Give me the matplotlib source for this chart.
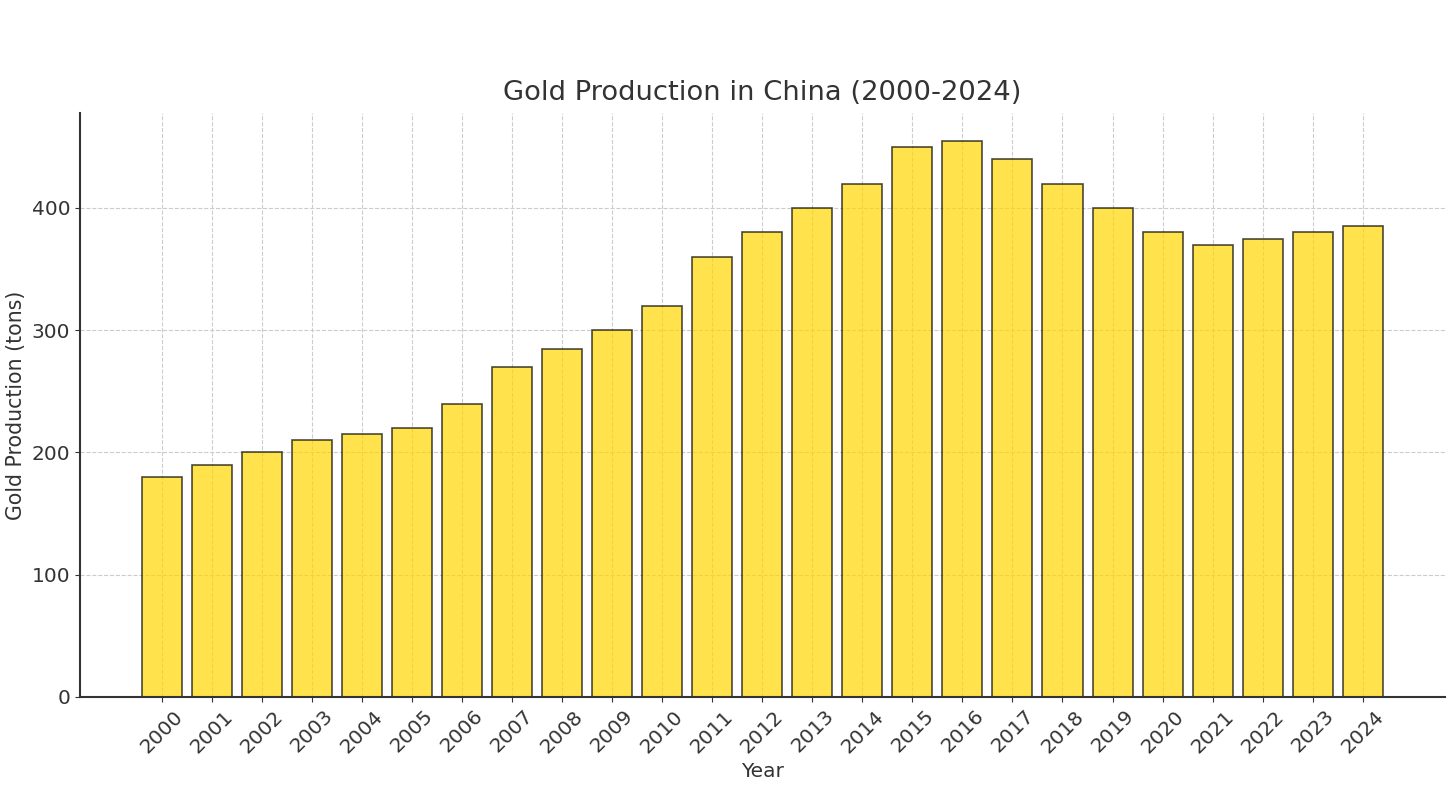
import matplotlib
matplotlib.use("Agg")
import matplotlib.pyplot as plt

years = [str(y) for y in range(2000, 2025)]
production = [180, 190, 200, 210, 215, 220, 240, 270, 285, 300, 320, 360, 380,
              400, 420, 450, 455, 440, 420, 400, 380, 370, 375, 380, 385]

text_color = "#333333"
plt.rcParams['font.family'] = ['DejaVu Sans']

fig = plt.figure(figsize=(14.52, 7.9), dpi=100)
ax = fig.add_axes([0.055, 0.118, 0.940, 0.739])

ax.bar(years, production, color="gold", alpha=0.7, edgecolor="black", linewidth=1.2, width=0.8)

ax.set_title("Gold Production in China (2000-2024)", fontsize=19.7, color=text_color, pad=9)
ax.set_xlabel("Year", fontsize=14.5, color=text_color)
ax.set_ylabel("Gold Production (tons)", fontsize=14.8, color=text_color)
ax.tick_params(axis='x', labelrotation=45, labelsize=14.5, colors=text_color)
ax.tick_params(axis='y', labelsize=14.5, colors=text_color)
for lbl in ax.get_xticklabels():
    lbl.set_ha('center')
ax.grid(True, linestyle='--', color='#cccccc', linewidth=0.8)
ax.set_axisbelow(True)
for s in ['top', 'right']:
    ax.spines[s].set_visible(False)
for s in ['left', 'bottom']:
    ax.spines[s].set_color(text_color)
    ax.spines[s].set_linewidth(1.5)
ax.set_yticks([0, 100, 200, 300, 400])

fig.savefig("out.png", dpi=100)
